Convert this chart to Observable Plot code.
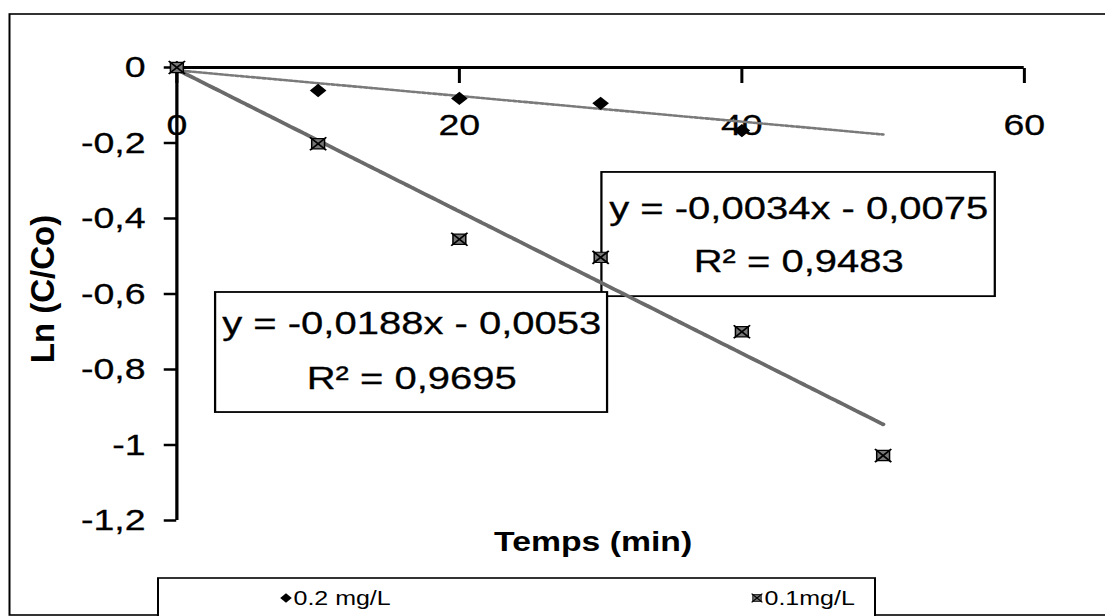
<!DOCTYPE html>
<html><head><meta charset="utf-8">
<script src="https://cdn.jsdelivr.net/npm/d3@7"></script>
<script src="https://cdn.jsdelivr.net/npm/@observablehq/plot@0.6"></script>
<style>html,body{margin:0;padding:0;background:#fff;overflow:hidden}</style>
</head><body><div id="chart"></div>
<script>
// ---- data ----
const times = [0, 10, 20, 30, 40, 50];
const ln02 = [0, -0.061, -0.082, -0.095, -0.167, null];
const ln01 = [0, -0.202, -0.455, -0.503, -0.700, -1.028];
const seriesNames = ["0.2 mg/L", "0.1mg/L"];
const slopes = [-0.0034, -0.0188];
const intercepts = [-0.0075, -0.0053];
const r2 = [0.9483, 0.9695];
const xTicks = [0, 20, 40, 60];
const yTicks = [0, -0.2, -0.4, -0.6, -0.8, -1, -1.2];
const xTitle = "Temps (min)";
const yTitle = "Ln (C/Co)";
// equation label boxes (data units)
const eqBoxX1 = [30.1, 2.75];
const eqBoxX2 = [57.95, 30.5];
const eqBoxY1 = [-0.278, -0.596];
const eqBoxY2 = [-0.607, -0.914];
const eqLine1Y = [-0.375, -0.679];
const eqLine2Y = [-0.514, -0.825];

const fmt = v => String(v).replace(".", ",");
const W = 884, H = 616;
const FONT = "'Liberation Sans', Arial, sans-serif";

const pts02 = times.map((t, i) => ({t, v: ln02[i]})).filter(d => d.v != null);
const pts01 = times.map((t, i) => ({t, v: ln01[i]}));
const xExt = d3.extent(times);
const trends = slopes.flatMap((m, k) => xExt.map(t => ({k, t, v: m * t + intercepts[k]})));
const boxes = slopes.map((m, k) => ({
  x1: eqBoxX1[k], x2: eqBoxX2[k], y1: eqBoxY1[k], y2: eqBoxY2[k],
  cx: (eqBoxX1[k] + eqBoxX2[k]) / 2, l1: eqLine1Y[k], l2: eqLine2Y[k],
  eq: `y = ${fmt(m)}x - ${fmt(-intercepts[k])}`,
  r: `R² = ${fmt(r2[k])}`
}));

const chart = Plot.plot({
  width: W, height: H,
  marginLeft: 141, marginRight: 65, marginTop: 67, marginBottom: 96,
  x: {domain: [0, 60]},
  y: {domain: [-1.2, 0]},
  style: {fontFamily: FONT, background: "white", color: "black"},
  marks: [
    Plot.rect(boxes, {x1: "x1", x2: "x2", y1: "y1", y2: "y2", fill: "white", stroke: "black", strokeWidth: 1.8}),
    Plot.text(boxes, {x: "cx", y: "l1", text: "eq", fontSize: 32, fill: "black", stroke: "black", strokeWidth: 0.3}),
    Plot.text(boxes, {x: "cx", y: "l2", text: "r", fontSize: 32, fill: "black", stroke: "black", strokeWidth: 0.3}),
    Plot.ruleY([0], {stroke: "black", strokeWidth: 3}),
    Plot.ruleX([0], {stroke: "black", strokeWidth: 2.6}),
    Plot.axisX({anchor: "top", ticks: xTicks, tickSize: 15, dy: 15, fill: "none", label: null, strokeWidth: 2.4}),
    Plot.text(xTicks, {x: d => d, frameAnchor: "top", lineAnchor: "middle", dy: 58, text: d => fmt(d), fontSize: 30, fill: "black", stroke: "black", strokeWidth: 0.3}),
    Plot.axisY({anchor: "left", ticks: yTicks, tickSize: 10, tickPadding: 15, tickFormat: fmt, fontSize: 30, label: null, strokeWidth: 2.5}),
    Plot.text([yTitle], {text: d => d, frameAnchor: "left", textAnchor: "middle", lineAnchor: "middle", dx: -107, dy: -5, rotate: -90, fontSize: 33, fontWeight: "bold", fill: "black"}),
    Plot.text([xTitle], {text: d => d, frameAnchor: "bottom", textAnchor: "middle", lineAnchor: "middle", dx: -6, dy: 22, fontSize: 27, fontWeight: "bold", fill: "black"}),
    Plot.line(trends.filter(d => d.k === 0), {x: "t", y: "v", stroke: "#7a7a7a", strokeWidth: 2.6, strokeDasharray: "2.5,1.8"}),
    Plot.line(trends.filter(d => d.k === 1), {x: "t", y: "v", stroke: "#6a6a6a", strokeWidth: 3.6, strokeDasharray: "5,1"}),
    Plot.dot(pts02, {x: "t", y: "v", symbol: "diamond2", r: 6, fill: "black", stroke: "none"}),
    Plot.dot(pts01, {x: "t", y: "v", symbol: "square", r: 5.8, fill: "#777", stroke: "black", strokeWidth: 1.2}),
    Plot.dot(pts01, {x: "t", y: "v", symbol: "times", r: 6, stroke: "black", strokeWidth: 1.6})
  ]
});

document.getElementById("chart").appendChild(chart);
const svg = d3.select(chart);
svg.attr("viewBox", `0 0 ${W} ${H}`).attr("width", 1105).attr("height", 616).attr("preserveAspectRatio", "none");
svg.style("width", "1105px").style("height", "616px").style("max-width", "none").style("overflow", "hidden");

// thicken tick label rendering slightly (scanned look)
svg.selectAll("g[aria-label='y-axis tick label'] text, g[aria-label='y-axis tick label']")
  .attr("stroke", "black").attr("stroke-width", 0.3);

// compensate the rotated title thickness (image is stretched horizontally)
svg.selectAll("text").filter(function() { return this.textContent === yTitle; })
  .each(function() {
    const t = d3.select(this).attr("transform");
    if (t) d3.select(this).attr("transform", t + " scale(1,0.8)");
  });

// outer frame
svg.append("rect").attr("x", 7.6).attr("y", 14).attr("width", 960).attr("height", 601)
  .attr("fill", "none").attr("stroke", "black").attr("stroke-width", 1.6);

// legend
const lg = svg.append("g").attr("font-family", FONT).attr("font-size", 20).attr("text-anchor", "start");
lg.append("rect").attr("x", 126.4).attr("y", 578).attr("width", 573.6).attr("height", 60)
  .attr("fill", "white").attr("stroke", "black").attr("stroke-width", 1.6);
const legX = [228.8, 605.6];
lg.append("path").attr("transform", `translate(${legX[0]},598)`)
  .attr("d", d3.symbol(d3.symbolDiamond2, 55)()).attr("fill", "black");
lg.append("path").attr("transform", `translate(${legX[1]},598)`)
  .attr("d", d3.symbol(d3.symbolSquare, 45)()).attr("fill", "#777").attr("stroke", "black").attr("stroke-width", 0.8);
lg.append("path").attr("transform", `translate(${legX[1]},598)`)
  .attr("d", d3.symbol(d3.symbolTimes, 50)()).attr("fill", "none").attr("stroke", "black").attr("stroke-width", 1);
seriesNames.forEach((n, i) => {
  lg.append("text").attr("x", legX[i] + 6).attr("y", 598).attr("dy", "0.35em")
    .attr("text-anchor", "start").attr("fill", "black").text(n);
});
</script>
</body></html>
